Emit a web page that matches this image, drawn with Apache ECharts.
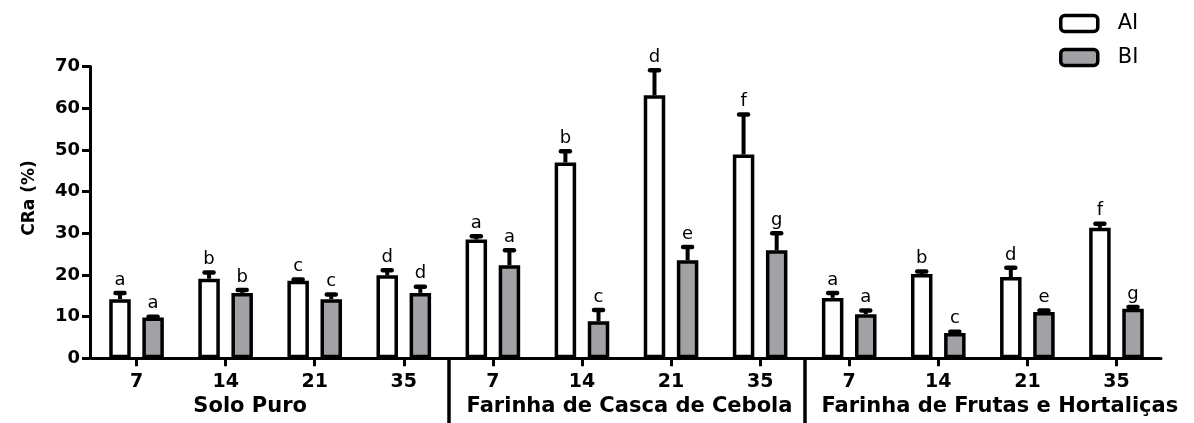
<!DOCTYPE html>
<html>
<head>
<meta charset="utf-8">
<script src="https://cdn.jsdelivr.net/npm/echarts@6/dist/echarts.min.js"></script>
<style>
  html, body { margin: 0; padding: 0; background: #fff; }
  #chart { width: 1194px; height: 423px; }
</style>
</head>
<body>
<div id="chart"></div>
<script>
// Incubation days, one per bar pair, repeated for each substrate group
const days = ['7', '14', '21', '35', '7', '14', '21', '35', '7', '14', '21', '35'];
const groups = ['Solo Puro', 'Farinha de Casca de Cebola', 'Farinha de Frutas e Hortaliças'];

// CRa (%) means and upper error (SD) for each series
const aiValues = [14.2, 19.1, 18.6, 19.9, 28.5, 47.0, 63.1, 48.9, 14.5, 20.2, 19.5, 31.3];
const aiErrors = [1.5, 1.5, 0.3, 1.2, 0.8, 2.7, 6.0, 9.6, 1.2, 0.6, 2.2, 1.0];
const biValues = [9.8, 15.7, 14.2, 15.7, 22.3, 8.9, 23.5, 25.9, 10.6, 6.1, 11.1, 11.9];
const biErrors = [0.2, 0.7, 1.1, 1.5, 3.6, 2.7, 3.2, 4.1, 0.9, 0.3, 0.4, 0.4];

// Significance letters above each bar
const aiLetters = ['a', 'b', 'c', 'd', 'a', 'b', 'd', 'f', 'a', 'b', 'd', 'f'];
const biLetters = ['a', 'b', 'c', 'd', 'a', 'c', 'e', 'g', 'a', 'c', 'e', 'g'];

const BAR_WIDTH = 21.5;
const BAR_GAP = 0.54;                      // fraction of bar width
const PAIR_OFFSET = (BAR_WIDTH + BAR_WIDTH * BAR_GAP) / 2;
const GREY = '#a2a1a6';

// Error bar (upper only) with cap, plus the letter above it
function errorRenderer(letters, side) {
  return function (params, api) {
    const i = api.value(0);
    const v = api.value(1);
    const e = api.value(2);
    const base = api.coord([i, v]);
    const top = api.coord([i, v + e]);
    const x = base[0] + side * PAIR_OFFSET;
    return {
      type: 'group',
      children: [
        { type: 'line', shape: { x1: x, y1: base[1], x2: x, y2: top[1] },
          style: { stroke: '#000', lineWidth: 4 } },
        { type: 'line', shape: { x1: x - 4.5, y1: top[1], x2: x + 4.5, y2: top[1] },
          style: { stroke: '#000', lineWidth: 4.5, lineCap: 'round' } },
        { type: 'text', x: x, y: top[1] - 4,
          style: { text: letters[params.dataIndex], align: 'center', verticalAlign: 'bottom',
                   font: '18px "DejaVu Sans"', fill: '#000' } }
      ]
    };
  };
}

const toTriples = (vals, errs) => vals.map((v, i) => [i, v, errs[i]]);

const groupBounds = groups.slice(1).map((_, i) => i + 1);
const groupCenters = groups.map((_, i) => i + 0.5);

const chart = echarts.init(document.getElementById('chart'), null, { renderer: 'canvas' });

chart.setOption({
  backgroundColor: '#fff',
  animation: false,
  legend: {
    data: ['AI', 'BI'],
    orient: 'vertical',
    left: 1059,
    top: 13,
    padding: 0,
    itemWidth: 37,
    itemHeight: 16,
    itemGap: 13,
    icon: 'roundRect',
    itemStyle: { borderColor: '#000', borderWidth: 3.5 },
    textStyle: { fontFamily: 'DejaVu Sans', fontSize: 21, color: '#000', padding: [0, 0, 0, 15] },
    selectedMode: false
  },
  grid: { left: 92, right: 33, top: 66.6, bottom: 64.7, outerBoundsMode: 'none' },
  xAxis: [
    {
      type: 'category',
      data: days,
      position: 'bottom',
      axisLine: { show: true, lineStyle: { color: '#000', width: 3 } },
      axisTick: { show: true, alignWithLabel: true, length: 8, lineStyle: { color: '#000', width: 3 } },
      axisLabel: { interval: 0, margin: 14, fontFamily: 'DejaVu Sans', fontWeight: 'bold',
                   fontSize: 19, color: '#000' },
      splitLine: { show: false }
    },
    {
      type: 'value',
      position: 'bottom',
      min: 0,
      max: groups.length,
      axisLine: { show: false, onZero: false },
      axisTick: { show: true, length: 70, customValues: groupBounds,
                  lineStyle: { color: '#000', width: 3.5 } },
      axisLabel: {
        customValues: groupCenters, margin: 38,
        formatter: (v) => '{g' + Math.floor(v) + '|' + groups[Math.floor(v)] + '}',
        fontFamily: 'DejaVu Sans', fontWeight: 'bold', fontSize: 21, color: '#000',
        rich: {
          g0: { padding: [0, 40, 0, 0] },
          g1: { padding: [0, 0, 0, 6] },
          g2: { padding: [0, 0, 0, 34] }
        }
      },
      splitLine: { show: false }
    }
  ],
  yAxis: {
    type: 'value',
    min: 0,
    max: 70,
    interval: 10,
    offset: 2,
    name: 'CRa (%)',
    nameLocation: 'middle',
    nameGap: 52,
    nameRotate: 90,
    nameTextStyle: { fontFamily: 'DejaVu Sans', fontWeight: 'bold', fontSize: 17,
                     color: '#000', padding: [0, 0, 0, 29] },
    axisLine: { show: true, onZero: false, lineStyle: { color: '#000', width: 3 } },
    axisTick: { show: true, length: 8, lineStyle: { color: '#000', width: 3 } },
    axisLabel: { margin: 10, fontFamily: 'DejaVu Sans', fontWeight: 'bold', fontSize: 18, color: '#000' },
    splitLine: { show: false }
  },
  series: [
    {
      name: 'AI', type: 'bar', data: aiValues,
      barWidth: BAR_WIDTH, barGap: (BAR_GAP * 100) + '%',
      itemStyle: { color: '#fff', borderColor: '#000', borderWidth: 3.5 }
    },
    {
      name: 'BI', type: 'bar', data: biValues,
      barWidth: BAR_WIDTH, barGap: (BAR_GAP * 100) + '%',
      itemStyle: { color: GREY, borderColor: '#000', borderWidth: 3.5 }
    },
    {
      name: 'AI error', type: 'custom', z: 5,
      data: toTriples(aiValues, aiErrors),
      encode: { x: 0, y: 1 },
      renderItem: errorRenderer(aiLetters, -1)
    },
    {
      name: 'BI error', type: 'custom', z: 5,
      data: toTriples(biValues, biErrors),
      encode: { x: 0, y: 1 },
      renderItem: errorRenderer(biLetters, 1)
    }
  ]
});
</script>
</body>
</html>
